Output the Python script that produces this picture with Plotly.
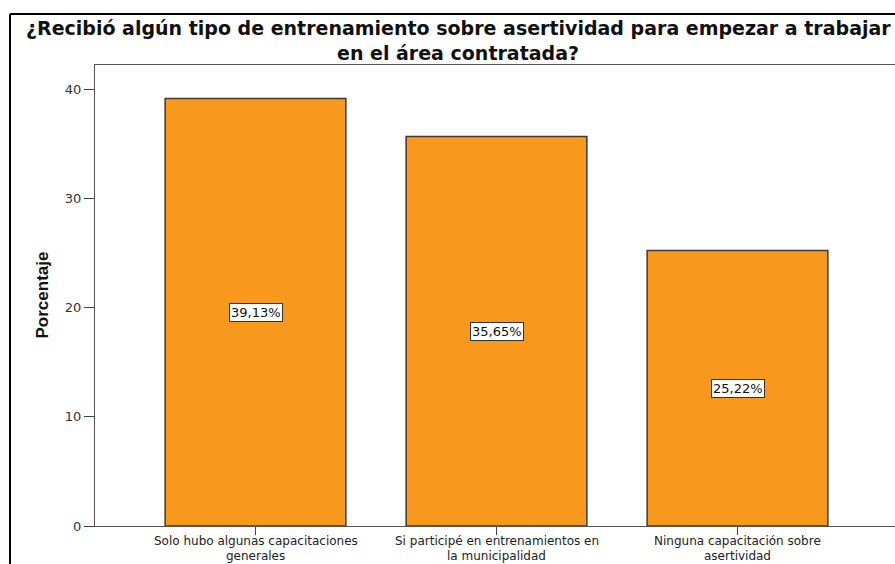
import plotly.graph_objects as go

categories = [
    "Solo hubo algunas capacitaciones<br>generales",
    "Si participé en entrenamientos en<br>la municipalidad",
    "Ninguna capacitación sobre<br>asertividad",
]
percentages = [39.13, 35.65, 25.22]
value_labels = ["39,13%", "35,65%", "25,22%"]
y_ticks = [0, 10, 20, 30, 40]
title_lines = [
    "¿Recibió algún tipo de entrenamiento sobre asertividad para empezar a trabajar",
    "en el área contratada?",
]

W, H = 895, 564
ML, MR, MT, MB = 95, 0, 65, 38
plot_w = W - ML - MR
plot_h = H - MT - MB

def px_x(px):
    return (px - ML) / plot_w

def px_y(py):
    return (H - MB - py) / plot_h

BAR_COLOR = "#F8981D"
FONT = "Liberation Sans, Arial, sans-serif"
LABEL_FONT = "DejaVu Sans, sans-serif"

fig = go.Figure()
fig.add_trace(go.Bar(
    x=list(range(len(categories))),
    y=percentages,
    width=0.75,
    marker=dict(color=BAR_COLOR, line=dict(color="#3a3a3a", width=1.5)),
    hoverinfo="skip",
))

annotations = []
# value boxes in the middle of each bar
for i, (v, lab) in enumerate(zip(percentages, value_labels)):
    annotations.append(dict(
        x=i, y=v / 2, xref="x", yref="y", text=lab, showarrow=False,
        font=dict(family=LABEL_FONT, size=13, color="#111"),
        bgcolor="white", bordercolor="#333", borderwidth=1, borderpad=1,
    ))

# two-line category labels under the axis, set with tight line spacing
for i, cat in enumerate(categories):
    for j, line in enumerate(cat.split("<br>")):
        annotations.append(dict(
            x=i, y=px_y(541 + 15 * j), xref="x", yref="paper", text=line,
            showarrow=False, xanchor="center", yanchor="middle",
            font=dict(family=LABEL_FONT, size=12, color="#222"),
        ))

# chart title, one annotation per line
for j, line in enumerate(title_lines):
    annotations.append(dict(
        x=px_x(458), y=px_y(28 + 25 * j), xref="paper", yref="paper",
        text="<b>" + line + "</b>", showarrow=False,
        xanchor="center", yanchor="middle",
        font=dict(family=LABEL_FONT, size=19, color="#111"),
    ))

annotations.append(dict(
    x=px_x(42), y=0.5, xref="paper", yref="paper", text="<b>Porcentaje</b>",
    textangle=-90, showarrow=False, xanchor="center", yanchor="middle",
    font=dict(family=FONT, size=17, color="#111"),
))

spacing = 241.0
x0 = -160.5 / spacing
x1 = x0 + plot_w / spacing

fig.update_layout(
    width=W, height=H,
    margin=dict(l=ML, r=MR, t=MT, b=MB),
    paper_bgcolor="white", plot_bgcolor="white",
    showlegend=False,
    xaxis=dict(
        range=[x0, x1], tickmode="array",
        tickvals=list(range(len(categories))), ticktext=[""] * len(categories),
        ticks="outside", ticklen=8, tickcolor="#444", tickwidth=1,
        showline=True, linecolor="#555", linewidth=1, mirror=True,
        showgrid=False, zeroline=False,
    ),
    yaxis=dict(
        range=[0, 42.2], tickmode="array", tickvals=y_ticks,
        ticks="outside", ticklen=10, tickcolor="#444", tickwidth=1,
        showline=True, linecolor="#555", linewidth=1, mirror=True,
        showgrid=False, zeroline=False,
        tickfont=dict(family=LABEL_FONT, size=13, color="#333"),
    ),
    annotations=annotations,
    shapes=[
        dict(type="line", xref="paper", yref="paper",
             x0=px_x(10), x1=px_x(W + 5), y0=px_y(14), y1=px_y(14),
             line=dict(color="black", width=2)),
        dict(type="line", xref="paper", yref="paper",
             x0=px_x(10), x1=px_x(10), y0=px_y(14), y1=px_y(H + 5),
             line=dict(color="black", width=2)),
    ],
)

fig.write_html("out.html")
